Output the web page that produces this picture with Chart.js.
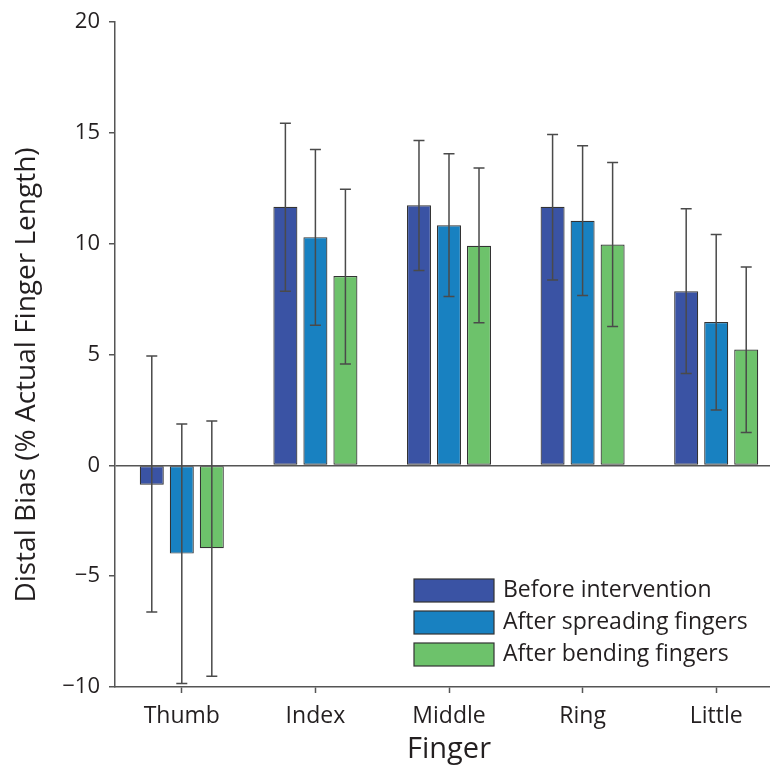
<!DOCTYPE html>
<html>
<head>
<meta charset="utf-8">
<script src="https://cdn.jsdelivr.net/npm/chart.js@4.4.0/dist/chart.umd.min.js"></script>
<style>
  html, body { margin: 0; padding: 0; background: #fff; overflow: hidden; }
  canvas { display: block; }
</style>
</head>
<body>
<canvas id="myChart" width="783" height="767"></canvas>
<script>
// data
const fingers = ['Thumb', 'Index', 'Middle', 'Ring', 'Little'];
const seriesNames = ['Before intervention', 'After spreading fingers', 'After bending fingers'];

const before = [-0.87, 11.67, 11.74, 11.67, 7.86];
const beforeLow = [-6.62, 7.86, 8.80, 8.37, 4.15];
const beforeHigh = [4.94, 15.44, 14.66, 14.93, 11.58];

const spreading = [-3.98, 10.30, 10.84, 11.04, 6.47];
const spreadingLow = [-9.84, 6.33, 7.62, 7.67, 2.50];
const spreadingHigh = [1.87, 14.26, 14.06, 14.42, 10.42];

const bending = [-3.74, 8.55, 9.91, 9.97, 5.23];
const bendingLow = [-9.52, 4.58, 6.44, 6.27, 1.48];
const bendingHigh = [2.00, 12.46, 13.42, 13.67, 8.95];

const yTicks = [-10, -5, 0, 5, 10, 15, 20];
const yTitle = 'Distal Bias (% Actual Finger Length)';

// styles
const colors = ['#3a53a4', '#1881c1', '#6dc26b'];
const ink = '#231f20';
const axisGray = '#555';
const fontFamily = '"Open Sans", "Noto Sans", sans-serif';

const lows = [beforeLow, spreadingLow, bendingLow];
const highs = [beforeHigh, spreadingHigh, bendingHigh];

// error bars drawn from the bar elements
const errorBars = {
  id: 'errorBars',
  afterDatasetsDraw(chart) {
    const ctx = chart.ctx;
    const y = chart.scales.y;
    ctx.save();
    ctx.strokeStyle = '#4a4a4a';
    ctx.lineWidth = 1.5;
    chart.data.datasets.forEach((ds, i) => {
      const meta = chart.getDatasetMeta(i);
      meta.data.forEach((bar, j) => {
        const top = y.getPixelForValue(highs[i][j]);
        const bot = y.getPixelForValue(lows[i][j]);
        ctx.beginPath();
        ctx.moveTo(bar.x, top);
        ctx.lineTo(bar.x, bot);
        ctx.moveTo(bar.x - 5.5, top);
        ctx.lineTo(bar.x + 5.5, top);
        ctx.moveTo(bar.x - 5.5, bot);
        ctx.lineTo(bar.x + 5.5, bot);
        ctx.stroke();
      });
    });
    ctx.restore();
  }
};

// legend box in the lower right of the plot + y title (sits a bit below centre in the original)
const boxLegend = {
  id: 'boxLegend',
  afterDraw(chart) {
    const ctx = chart.ctx;
    ctx.save();
    ctx.font = '23px ' + fontFamily;
    ctx.textBaseline = 'middle';
    chart.data.datasets.forEach((ds, i) => {
      const top = 579 + i * 32;
      ctx.fillStyle = ds.backgroundColor;
      ctx.fillRect(414, top, 80, 23);
      ctx.strokeStyle = '#333';
      ctx.lineWidth = 1.2;
      ctx.strokeRect(414, top, 80, 23);
      ctx.fillStyle = ink;
      ctx.fillText(ds.label, 503, top + 11);
    });

    // y axis title
    ctx.translate(27, 375);
    ctx.rotate(-Math.PI / 2);
    ctx.font = '28px ' + fontFamily;
    ctx.textAlign = 'center';
    ctx.fillText(yTitle, 0, 0);
    ctx.restore();
  }
};

const data = {
  labels: fingers,
  datasets: [
    { label: seriesNames[0], data: before, backgroundColor: colors[0] },
    { label: seriesNames[1], data: spreading, backgroundColor: colors[1] },
    { label: seriesNames[2], data: bending, backgroundColor: colors[2] }
  ].map(ds => Object.assign(ds, {
    borderColor: '#333',
    borderWidth: 1.2,
    borderSkipped: false,
    categoryPercentage: 0.674,
    barPercentage: 0.8
  }))
};

const config = {
  type: 'bar',
  data: data,
  options: {
    responsive: false,
    animation: false,
    layout: { padding: { top: 20, right: 0, left: 0, bottom: 0 } },
    plugins: {
      legend: { display: false },
      tooltip: { enabled: false }
    },
    scales: {
      x: {
        afterFit(scale) { scale.height = 80; },
        border: { display: true, color: axisGray, width: 1.5 },
        grid: {
          drawOnChartArea: false,
          offset: false,
          tickLength: 6,
          tickColor: axisGray,
          tickWidth: 1.5
        },
        ticks: {
          color: ink,
          font: { family: fontFamily, size: 23 },
          padding: 10
        },
        title: {
          display: true,
          text: 'Finger',
          color: ink,
          font: { family: fontFamily, size: 29 },
          padding: { top: 0, bottom: 0 }
        }
      },
      y: {
        min: -10,
        max: 20,
        afterFit(scale) { scale.width = 115; },
        afterBuildTicks(scale) { scale.ticks = yTicks.map(v => ({ value: v })); },
        border: { display: true, color: axisGray, width: 1.5 },
        grid: {
          color: ctx => (ctx.tick && ctx.tick.value === 0 ? axisGray : 'rgba(0,0,0,0)'),
          lineWidth: 1.5,
          tickLength: 6,
          tickColor: axisGray,
          tickWidth: 1.5
        },
        ticks: {
          color: ink,
          font: { family: fontFamily, size: 22 },
          padding: 9,
          callback: v => String(v).replace('-', '\u2212')
        },
        title: { display: false }
      }
    }
  },
  plugins: [errorBars, boxLegend]
};

const context = document.getElementById('myChart').getContext('2d');
const chart = new Chart(context, config);
</script>
</body>
</html>
